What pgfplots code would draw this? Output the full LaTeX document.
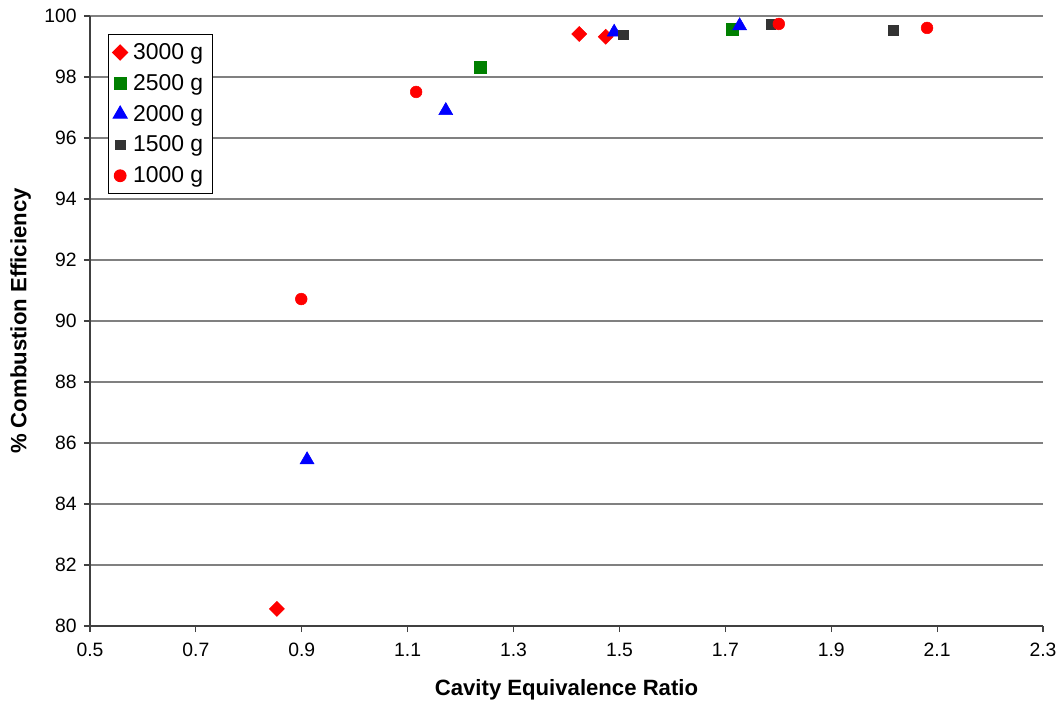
\documentclass[border=0pt]{standalone}
\usepackage{fontspec}
\setmainfont{Liberation Sans}
\usepackage{pgfplots}
\pgfplotsset{compat=1.18}
\definecolor{gridgray}{RGB}{128,128,128}
\definecolor{axgray}{RGB}{64,64,64}
\definecolor{dk}{RGB}{51,51,51}
\definecolor{grn}{RGB}{0,128,0}
\begin{document}
\begin{tikzpicture}
\useasboundingbox (-67.5pt,-60.75pt) rectangle (730.5pt,469.5pt);
\begin{axis}[
  at={(0,0)}, anchor=south west,
  scale only axis,
  width=714.75pt, height=457.5pt,
  xmin=0.5, xmax=2.3, ymin=80, ymax=100,
  xtick={0.5,0.7,...,2.31},
  ytick={80,82,...,100},
  enlargelimits=false,
  axis x line*=bottom, axis y line*=left,
  axis line style={-, draw=axgray, line width=1pt},
  tick align=outside,
  major tick length=4.5pt,
  tick style={draw=axgray, line width=0.8pt},
  ymajorgrids,
  grid style={draw=gridgray, line width=0.8pt},
  /pgf/number format/assume math mode=true,
  xticklabel style={/pgf/number format/fixed,/pgf/number format/precision=1,/pgf/number format/fixed zerofill, font=\fontsize{14.5}{17}\selectfont, yshift=-5pt},
  yticklabel style={font=\fontsize{14.5}{17}\selectfont, xshift=-2pt},
  xlabel={\textbf{Cavity Equivalence Ratio}},
  ylabel={\textbf{\% Combustion Efficiency}},
  label style={font=\fontsize{16.6}{19}\selectfont},
  xlabel style={at={(axis description cs:0.5,0)}, anchor=center, yshift=-48pt},
  ylabel style={at={(axis description cs:0,0.5)}, anchor=center, yshift=52pt},
  legend style={at={(axis description cs:0.019,0.970)}, anchor=north west,
    draw=black, fill=white, line width=0.8pt,
    font=\fontsize{17.2}{20}\selectfont,
    row sep=5.6pt, inner xsep=3pt, inner ysep=4.5pt,
    nodes={inner xsep=4pt}},
  legend cell align=left,
]
\addplot[only marks, mark=square*, mark size=4pt, color=red, mark options={fill=red, rotate=45}]
  coordinates {(0.853,80.56) (1.424,99.41) (1.474,99.32)};
\addlegendentry{3000 g}
\addplot[only marks, mark=square*, mark size=4.6pt, color=grn, mark options={fill=grn}]
  coordinates {(1.237,98.33) (1.713,99.57)};
\addlegendentry{2500 g}
\addplot[only marks, mark=triangle*, mark size=6pt, color=blue, mark options={fill=blue}]
  coordinates {(0.910,85.45) (1.172,96.90) (1.490,99.47) (1.727,99.68)};
\addlegendentry{2000 g}
\addplot[only marks, mark=square*, mark size=3.6pt, color=dk, mark options={fill=dk}]
  coordinates {(1.507,99.38) (1.786,99.73) (2.017,99.54)};
\addlegendentry{1500 g}
\addplot[only marks, mark=*, mark size=4.4pt, color=red, mark options={fill=red}]
  coordinates {(0.899,90.72) (1.116,97.51) (1.801,99.74) (2.081,99.61)};
\addlegendentry{1000 g}
\end{axis}
\end{tikzpicture}
\end{document}
